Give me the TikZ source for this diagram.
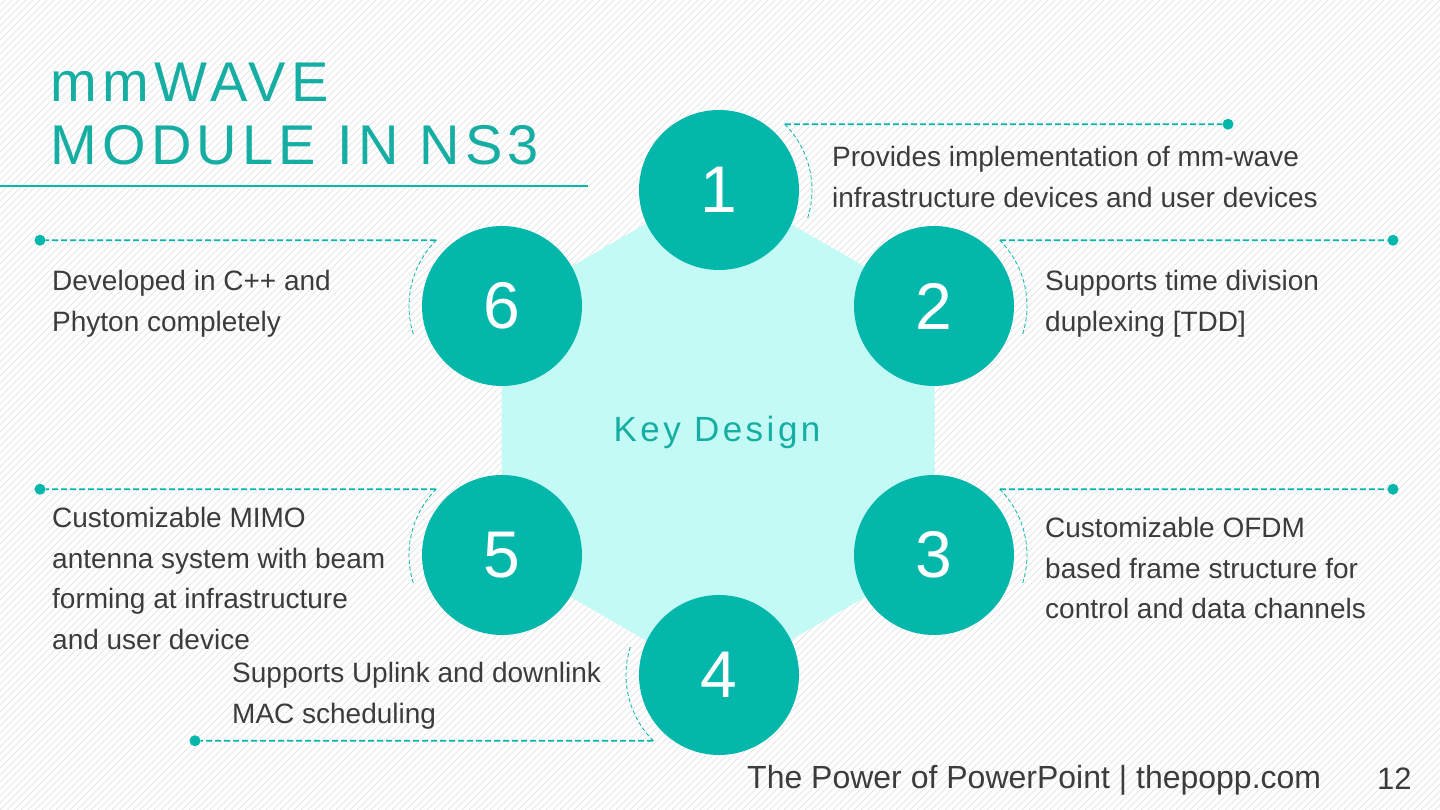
\documentclass[tikz,border=0pt]{standalone}
\usepackage{fontspec}
\setmainfont{Liberation Sans}
\newfontfamily\titlefont[LetterSpace=9.5]{Liberation Sans}
\newfontfamily\keyfont[LetterSpace=10]{Liberation Sans}
\usetikzlibrary{calc}
\definecolor{teal}{RGB}{4,183,171}
\definecolor{titleteal}{RGB}{22,174,163}
\definecolor{hexfill}{RGB}{196,250,246}
\definecolor{textgray}{RGB}{60,60,60}
\definecolor{hatchgray}{RGB}{230,230,230}
\tikzset{
  hatch/.style={draw=hatchgray, line width=0.9pt},
  numcirc/.style={circle, fill=teal, minimum size=160pt, inner sep=0pt, text=white, font=\fontsize{66}{66}\selectfont},
  dashline/.style={draw=teal, line width=1.6pt, dash pattern=on 6pt off 3pt},
  arcline/.style={draw=teal, line width=0.8pt, dash pattern=on 4pt off 2.5pt},
  dot/.style={circle, fill=teal, minimum size=11pt, inner sep=0pt},
  body/.style={text=textgray, font=\fontsize{28}{40.5}\selectfont, align=left, inner sep=0pt, anchor=base west},
  titletext/.style={text=titleteal, font=\titlefont\fontsize{56}{63}\selectfont, align=left, inner sep=0pt, anchor=base west},
  keytext/.style={text=titleteal, font=\keyfont\fontsize{35}{35}\selectfont, inner sep=0pt, anchor=base},
  foot/.style={text=textgray, inner sep=0pt, anchor=base west}
}
\begin{document}
\begin{tikzpicture}[x=1pt,y=1pt]
\useasboundingbox (0,0) rectangle (1440,810);
\fill[white] (0,0) rectangle (1440,810);
\begin{scope}
  \clip (0,0) rectangle (1440,810);
  \foreach \i in {-812,-805,...,1440} \draw[hatch] (\i,0) -- ++(810,810);
\end{scope}
% title
\node[titletext] (title1) at (50,708) {mmWAVE};
\node[titletext] (title2) at (50,645) {MODULE IN NS3};
\draw[draw=teal, line width=2pt] (0,624) -- (588,624);
% hexagon
\fill[hexfill] (718,628) -- (934.5,503) -- (934.5,253) -- (718,128) -- (501.5,253) -- (501.5,503) -- cycle;
\node[keytext] (kd) at (717,368) {Key Design};
% circles
\node[numcirc] (c1) at (719,620) {1};
\node[numcirc] (c2) at (934,504) {2};
\node[numcirc] (c3) at (934,255) {3};
\node[numcirc] (c4) at (719,135) {4};
\node[numcirc] (c5) at (502,255) {5};
\node[numcirc] (c6) at (502,504) {6};
% connector coordinates
\coordinate (a1) at ($(c1)+(45:93)$);
\coordinate (a2) at ($(c2)+(45:93)$);
\coordinate (a3) at ($(c3)+(45:93)$);
\coordinate (a4) at ($(c4)+(225:93)$);
\coordinate (a5) at ($(c5)+(135:93)$);
\coordinate (a6) at ($(c6)+(135:93)$);
\node[dot] (d1) at (1228,685.76) {};
\node[dot] (d2) at (1393,569.76) {};
\node[dot] (d3) at (1393,320.76) {};
\node[dot] (d4) at (195,69.24) {};
\node[dot] (d5) at (40,320.76) {};
\node[dot] (d6) at (40,569.76) {};
\draw[dashline] (a1) -- (d1);
\draw[dashline] (a2) -- (d2);
\draw[dashline] (a3) -- (d3);
\draw[dashline] (a4) -- (d4);
\draw[dashline] (a5) -- (d5);
\draw[dashline] (a6) -- (d6);
\draw[arcline] (a1) arc[start angle=45, end angle=-18, radius=93];
\draw[arcline] (a2) arc[start angle=45, end angle=-18, radius=93];
\draw[arcline] (a3) arc[start angle=45, end angle=-18, radius=93];
\draw[arcline] (a4) arc[start angle=225, end angle=161, radius=93];
\draw[arcline] (a5) arc[start angle=135, end angle=198, radius=93];
\draw[arcline] (a6) arc[start angle=135, end angle=198, radius=93];
% texts (base anchor = baseline of the last line)
\node[body] (t1) at (832,602.5) {Provides implementation of mm-wave\\infrastructure devices and user devices};
\node[body] (t2) at (1045,478.5) {Supports time division\\duplexing [TDD]};
\node[body] (t3) at (1045,191) {Customizable OFDM\\based frame structure for\\control and data channels};
\node[body] (t6) at (52,478.5) {Developed in C++ and\\Phyton completely};
\node[body] (t5) at (52,160.5) {Customizable MIMO\\antenna system with beam\\forming at infrastructure\\and user device};
\node[body] (t4) at (232,86.5) {Supports Uplink and downlink\\MAC scheduling};
% footer
\node[foot, font=\fontsize{32}{32}\selectfont] (ft) at (747,21) {The Power of PowerPoint | thepopp.com};
\node[foot, font=\fontsize{31}{31}\selectfont] (pg) at (1377,20) {12};
\end{tikzpicture}
\end{document}
